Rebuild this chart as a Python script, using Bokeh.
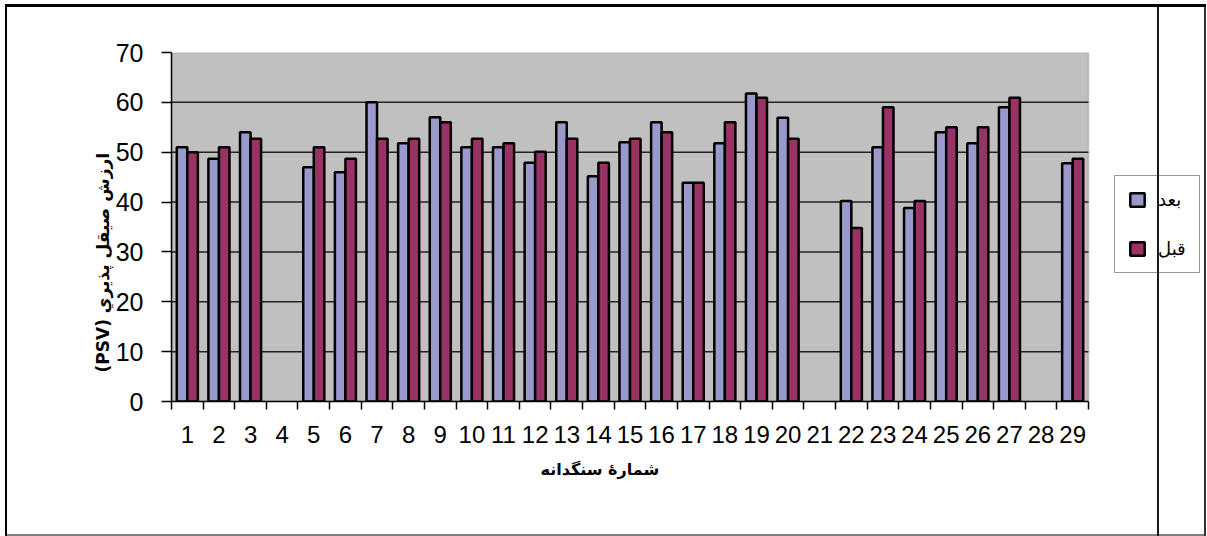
from bokeh.plotting import figure
from bokeh.models import (ColumnDataSource, FixedTicker, Legend, LegendItem, Range1d,
                          BoxAnnotation, Title)
from bokeh.transform import dodge
from bokeh.embed import file_html
from bokeh.resources import INLINE

NAN = float("nan")

# ---- data ----
categories = list(range(1, 30))
after_vals = [51, 48.7, 54, NAN, 47, 46, 60, 51.8, 57, 51, 51, 47.9, 56, 45.2, 52,
              56, 43.9, 51.8, 61.8, 56.9, NAN, 40.2, 51, 38.8, 54, 51.8, 59, NAN, 47.8]
before_vals = [50, 51, 52.7, NAN, 51, 48.7, 52.7, 52.7, 56, 52.7, 51.8, 50.1, 52.7, 47.9, 52.7,
               54, 43.9, 56, 60.9, 52.7, NAN, 34.8, 59, 40.2, 55, 55, 60.9, NAN, 48.7]
series_names = ["بعد", "قبل"]
x_title = "شمارۀ سنگدانه"
y_title = "(PSV) ارزش صيقل پذيري"
y_ticks = [0, 10, 20, 30, 40, 50, 60, 70]
y_min, y_max = 0, 70

src = ColumnDataSource(dict(x=categories, after=after_vals, before=before_vals))
grid_src = ColumnDataSource(dict(y=y_ticks[1:-1]))

W, H = 1207, 536
FRAME_L, PLOT_R, FRAME_T, FRAME_B = 171, 1088, 52, 401
x_lo, x_hi = categories[0] - 0.5, categories[-1] + 0.5
# the frame runs to the right canvas edge so that the legend fits inside it;
# the grey plot area itself ends at x_hi
x_end = x_lo + (x_hi - x_lo) * (W - FRAME_L) / (PLOT_R - FRAME_L)

# outer chart border + divider line drawn as CSS background layers of the page element
bg = ", ".join([
    "linear-gradient(#000,#000) 6px 4px / 1200px 3px no-repeat",
    "linear-gradient(#000,#000) 5px 4px / 2px 532px no-repeat",
    "linear-gradient(#1a1a1a,#1a1a1a) 1157px 4px / 2px 532px no-repeat",
    "linear-gradient(#333,#333) 1204px 4px / 2px 532px no-repeat",
    "linear-gradient(#808080,#808080) 6px 534px / 1200px 2px no-repeat",
    "white",
])

p = figure(width=W, height=H, output_backend="svg", toolbar_location=None,
           x_range=Range1d(x_lo, x_end), y_range=Range1d(y_min, y_max),
           min_border_left=FRAME_L, min_border_right=0, min_border_top=FRAME_T,
           min_border_bottom=H - FRAME_B, styles={"background": bg})

p.background_fill_alpha = 0
p.border_fill_alpha = 0
p.outline_line_color = None

# grey plot area
p.add_layout(BoxAnnotation(left=x_lo, right=x_hi, bottom=y_min, top=y_max,
                           fill_color="#C0C0C0", fill_alpha=1,
                           line_color="#808080", line_width=2, level="underlay"))

# horizontal grid lines limited to the plot area
p.xgrid.grid_line_color = None
p.ygrid.grid_line_color = None
p.segment(x0=x_lo, x1=x_hi, y0="y", y1="y", source=grid_src,
          line_color="#222222", line_width=1.5)

bw = 0.333
r1 = p.vbar(x=dodge("x", -bw / 2, range=p.x_range), top="after", width=bw, source=src,
            fill_color="#9999CC", line_color="black", line_width=2.5)
r2 = p.vbar(x=dodge("x", bw / 2, range=p.x_range), top="before", width=bw, source=src,
            fill_color="#993366", line_color="black", line_width=2.5)

# y axis
p.yaxis.ticker = FixedTicker(ticks=y_ticks)
p.yaxis.axis_line_color = "black"
p.yaxis.axis_line_width = 1.5
p.yaxis.major_tick_line_color = "black"
p.yaxis.major_tick_line_width = 1.5
p.yaxis.major_tick_out = 10
p.yaxis.major_tick_in = 0
p.yaxis.minor_tick_line_color = None
p.yaxis.major_label_text_font = "Liberation Sans"
p.yaxis.major_label_text_font_size = "25px"
p.yaxis.major_label_text_color = "black"
p.yaxis.major_label_standoff = 18

# x axis: labels at centres, ticks at category boundaries (minor ticks)
p.xaxis.ticker = FixedTicker(ticks=categories, minor_ticks=[c + 0.5 for c in [0] + categories])
p.xaxis.bounds = (x_lo, x_hi)
p.xaxis.major_tick_out = 0
p.xaxis.major_tick_in = 0
p.xaxis.minor_tick_out = 8
p.xaxis.minor_tick_in = 0
p.xaxis.minor_tick_line_color = "black"
p.xaxis.minor_tick_line_width = 1.5
p.xaxis.axis_line_color = "black"
p.xaxis.axis_line_width = 1.5
p.xaxis.major_label_text_font = "Liberation Sans"
p.xaxis.major_label_text_font_size = "24px"
p.xaxis.major_label_text_color = "black"
p.xaxis.major_label_standoff = 16

# axis titles as side-panel titles, so they can be placed like the reference
xt = Title(text=x_title, align="left", offset=369, standoff=25,
           text_font="DejaVu Sans", text_font_style="bold", text_font_size="16px",
           text_color="black")
p.add_layout(xt, "below")
yt = Title(text=y_title, align="left", offset=29, standoff=0,
           text_font="DejaVu Sans", text_font_style="bold", text_font_size="17px",
           text_color="black")
p.add_layout(yt, "left")

# legend (inside the widened frame, right of the plot area)
legend = Legend(items=[LegendItem(label=series_names[0], renderers=[r1]),
                       LegendItem(label=series_names[1], renderers=[r2])],
                location=(943, 128), orientation="vertical")
legend.glyph_width = 18
legend.glyph_height = 17
legend.spacing = 28
legend.padding = 13
legend.margin = 0
legend.label_standoff = 12
legend.label_text_font = "DejaVu Sans"
legend.label_text_font_size = "18px"
legend.label_text_color = "black"
legend.border_line_color = "#333333"
legend.border_line_width = 1.5
legend.background_fill_alpha = 0
p.add_layout(legend, "center")

open("out.html", "w").write(file_html(p, INLINE))
